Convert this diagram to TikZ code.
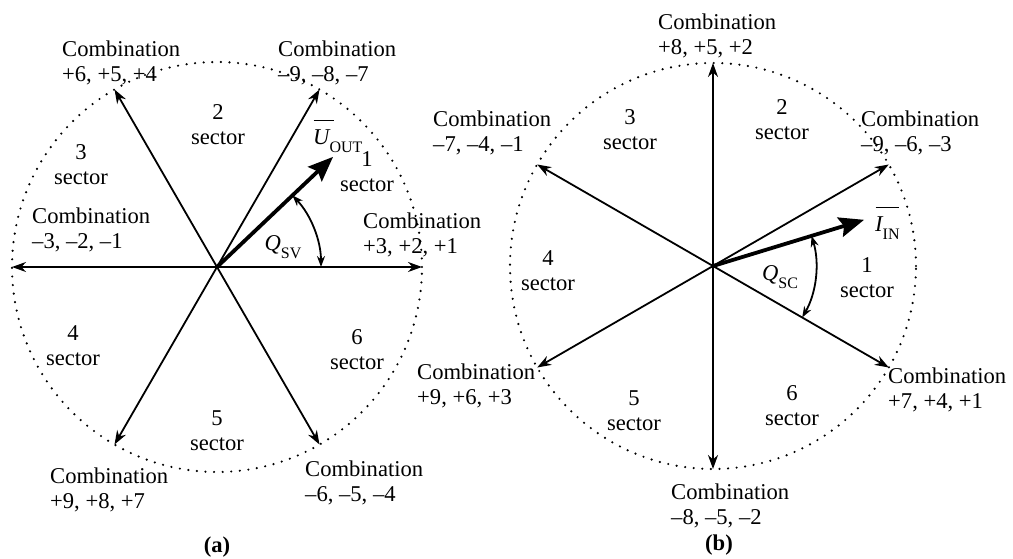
\documentclass[tikz,border=0pt]{standalone}
\usepackage{fontspec}
\setmainfont{Liberation Serif}
\usetikzlibrary{arrows.meta,calc}
\newcommand{\sbs}[1]{\raisebox{-0.34em}{\fontsize{16}{16}\selectfont #1}}
\newcommand{\ovl}[2]{\leavevmode\vbox{\offinterlineskip\hbox{\kern0.5pt\rlap{\rule{#1}{1.7pt}}}\kern 9pt\hbox{\itshape #2}}}
\begin{document}
\begin{tikzpicture}[x=1pt,y=1pt,
  every node/.style={font=\fontsize{22.6}{25}\selectfont, inner sep=0pt},
  lbl/.style={anchor=west, align=left},
  sec/.style={align=center},
  vec/.style={line width=1.8pt, -{Stealth[length=14pt,width=10pt]}},
  bigvec/.style={line width=3.8pt, -{Stealth[length=25pt,width=20pt,inset=4pt]}},
  angarc/.style={line width=1.8pt, {Stealth[length=11pt,width=8pt]}-{Stealth[length=11pt,width=8pt]}},
  dotcirc/.style={line width=2.4pt, line cap=round, dash pattern=on 0pt off 8.6pt}
]
\useasboundingbox (0,0) rectangle (1013,558);
% ---------------- (a) ----------------
\coordinate (A) at (217,291);
\draw[dotcirc] (A) circle[radius=205];
\foreach \a/\n in {0/a0,60/a60,120/a120,180/a180,240/a240,300/a300}{
  \coordinate (\n) at ($(A)+(\a:205pt)$);
  \draw[vec] (A) -- (\n);
}
\coordinate (Uout) at ($(A)+(43.5:160pt)$);
\draw[bigvec] (A) -- (Uout);
\coordinate (qa1) at ($(A)+(0:104pt)$);
\coordinate (qa2) at ($(A)+(43.5:104pt)$);
\draw[angarc] (qa1) arc[start angle=0, end angle=43.5, radius=104pt];
\node[lbl] (ca1) at (62,495.5) {Combination\\+6, +5, +4};
\node[lbl] (ca2) at (278,495.5) {Combination\\–9, –8, –7};
\node[lbl] (ca3) at (32,328) {Combination\\–3, –2, –1};
\node[lbl] (ca4) at (363,323.5) {Combination\\+3, +2, +1};
\node[lbl] (ca5) at (50,68.5) {Combination\\+9, +8, +7};
\node[lbl] (ca6) at (305,75.5) {Combination\\–6, –5, –4};
\node[sec] (sa2) at (218,433.5) {2\\sector};
\node[sec] (sa3) at (81,393.5) {3\\sector};
\node[sec] (sa1) at (367,386.5) {1\\sector};
\node[sec] (sa4) at (73,212.5) {4\\sector};
\node[sec] (sa6) at (357,208.5) {6\\sector};
\node[sec] (sa5) at (217,127.5) {5\\sector};
\node[anchor=base west] (ua) at (313,413) {\ovl{20pt}{U}\sbs{OUT}};
\node (qsv) at (283,311) {\textit{Q}\sbs{SV}};
\node (la) at (217,11) {\textbf{(a)}};
% ---------------- (b) ----------------
\coordinate (B) at (713,292);
\draw[dotcirc] (B) circle[radius=203];
\foreach \a/\n in {30/b30,90/b90,150/b150,210/b210,270/b270,330/b330}{
  \coordinate (\n) at ($(B)+(\a:203pt)$);
  \draw[vec] (B) -- (\n);
}
\coordinate (Iin) at ($(B)+(17:158pt)$);
\draw[bigvec] (B) -- (Iin);
\coordinate (qb1) at ($(B)+(-30:103pt)$);
\draw[angarc] (qb1) arc[start angle=-30, end angle=17, radius=103pt];
\node[lbl] (cb1) at (658,522.5) {Combination\\+8, +5, +2};
\node[lbl] (cb2) at (861,425.5) {Combination\\–9, –6, –3};
\node[lbl] (cb3) at (433,425.5) {Combination\\–7, –4, –1};
\node[lbl] (cb4) at (417,172.5) {Combination\\+9, +6, +3};
\node[lbl] (cb5) at (888,168) {Combination\\+7, +4, +1};
\node[lbl] (cb6) at (671,52.5) {Combination\\–8, –5, –2};
\node[sec] (sb2) at (782,438.5) {2\\sector};
\node[sec] (sb3) at (630,428) {3\\sector};
\node[sec] (sb4) at (548,287.5) {4\\sector};
\node[sec] (sb1) at (867,280.5) {1\\sector};
\node[sec] (sb5) at (634,147.5) {5\\sector};
\node[sec] (sb6) at (792,152) {6\\sector};
\node[anchor=base west] (ib) at (875,326) {\ovl{23pt}{I}\sbs{IN}};
\node (qsc) at (780,281) {\textit{Q}\sbs{SC}};
\node (lb) at (719,13) {\textbf{(b)}};
\end{tikzpicture}
\end{document}
